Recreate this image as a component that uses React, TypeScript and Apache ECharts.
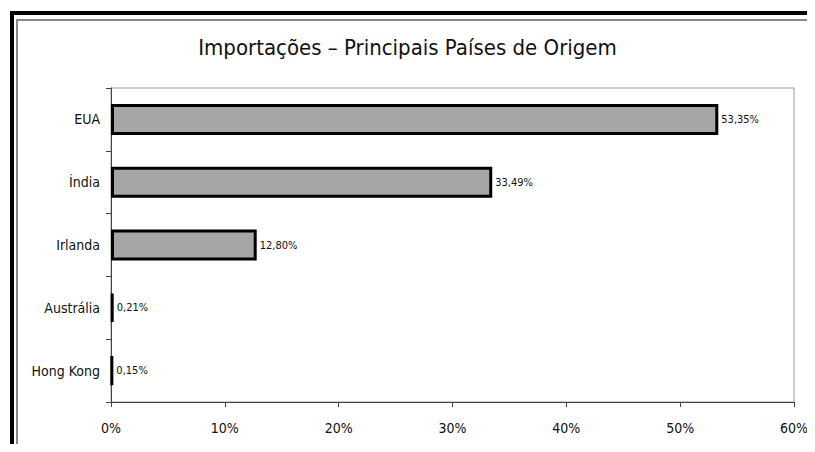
import React, { useEffect, useRef } from "react";
import * as echarts from "echarts";

const categories = ["EUA", "Índia", "Irlanda", "Austrália", "Hong Kong"];
const shares = [53.35, 33.49, 12.8, 0.21, 0.15];
const xTicks = [0, 10, 20, 30, 40, 50, 60];

const NARROW = "'Liberation Sans Narrow', 'Arial Narrow', 'DejaVu Sans Condensed', Arial, sans-serif";

export default function App() {
  const ref = useRef<HTMLDivElement>(null);
  useEffect(() => {
    if (!ref.current) return;
    const chart = echarts.init(ref.current, undefined, { renderer: "svg" });
    chart.setOption({
      animation: false,
      backgroundColor: "#ffffff",
      title: {
        text: "Importações – Principais Países de Origem",
        left: "center",
        top: 31,
        textStyle: { fontFamily: NARROW, fontSize: 22, fontWeight: "normal", color: "#111" },
      },
      graphic: [
        {
          type: "rect",
          shape: { x: 12, y: 13, width: 820, height: 460 },
          style: { fill: "none", stroke: "#000", lineWidth: 4 },
          silent: true,
        },
        {
          type: "rect",
          shape: { x: 17, y: 20, width: 820, height: 429 },
          style: { fill: "none", stroke: "#888", lineWidth: 2 },
          silent: true,
        },
      ],
      grid: {
        left: 111,
        top: 88,
        right: 21,
        bottom: 50,
        show: true,
        borderColor: "#999",
        borderWidth: 1,
      },
      xAxis: {
        type: "value",
        min: 0,
        max: 60,
        interval: 10,
        axisLine: { show: true, lineStyle: { color: "#444", width: 1 } },
        axisTick: { show: true, length: 5, lineStyle: { color: "#444" } },
        splitLine: { show: false },
        axisLabel: {
          margin: 19,
          fontFamily: NARROW,
          fontSize: 14,
          color: "#111",
          formatter: (v: number) => (xTicks.includes(v) ? `${v}%` : ""),
        },
      },
      yAxis: {
        type: "category",
        data: categories,
        inverse: true,
        axisLine: { show: true, lineStyle: { color: "#444", width: 1 } },
        axisTick: { show: true, length: 5, lineStyle: { color: "#444" } },
        axisLabel: { margin: 11, fontFamily: NARROW, fontSize: 14, color: "#111" },
      },
      series: [
        {
          type: "bar",
          data: shares,
          barWidth: 31,
          itemStyle: { color: "#a6a6a6", borderColor: "#000", borderWidth: 3 },
          label: {
            show: true,
            position: "right",
            distance: 3,
            fontFamily: NARROW,
            fontSize: 11,
            color: "#111",
            formatter: (p: any) => `${p.value.toFixed(2).replace(".", ",")}%`,
          },
        },
      ],
    });
    return () => chart.dispose();
  }, []);
  return <div ref={ref} style={{ width: 815, height: 452, margin: -8 }} />;
}
